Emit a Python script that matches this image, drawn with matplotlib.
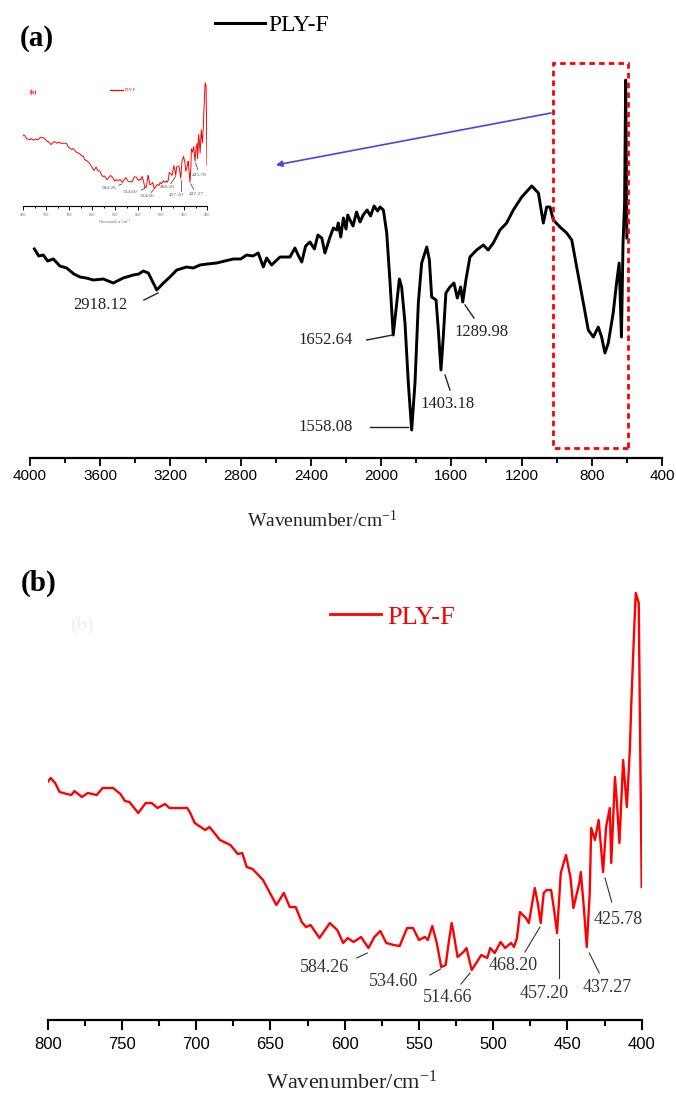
import numpy as np
import matplotlib.pyplot as plt
from matplotlib.patches import Rectangle
from matplotlib.lines import Line2D
from matplotlib.ticker import MultipleLocator

plt.rcParams['font.family'] = ['Liberation Serif', 'DejaVu Serif']
plt.rcParams['mathtext.fontset'] = 'custom'
plt.rcParams['mathtext.rm'] = 'Liberation Serif'
plt.rcParams['mathtext.it'] = 'Liberation Serif:italic'

# ---- (a) full spectrum, PLY-F (arbitrary units)
wn_a = [3975, 3950, 3924, 3900, 3867, 3830, 3791, 3750, 3715, 3680, 3639, 3582, 3526, 3469,
        3412, 3380, 3355, 3326, 3278, 3240, 3203, 3164, 3108, 3070, 3032, 2990, 2937, 2890,
        2842, 2800, 2766, 2730, 2700, 2671, 2652, 2624, 2576, 2519, 2491, 2470, 2452, 2430,
        2405, 2380, 2360, 2338, 2320, 2291, 2272, 2253, 2244, 2230, 2215, 2200, 2190, 2177,
        2160, 2140, 2120, 2102, 2080, 2060, 2040, 2020, 2006, 1987, 1968, 1949,
        1931, 1911, 1896, 1883, 1864, 1845, 1826, 1807, 1788, 1769, 1740, 1725, 1712, 1687,
        1674, 1659, 1646, 1631, 1608, 1585, 1566, 1547, 1535, 1517, 1494, 1456, 1418, 1390,
        1361, 1323, 1285, 1247, 1199, 1142, 1104, 1076, 1057, 1038, 1019, 981, 943, 914,
        886, 848, 820, 791, 763, 744, 725, 706, 678, 659, 644, 631, 622, 613, 607, 600]
t_a = [20.9, 20.2, 20.3, 19.7, 19.9, 19.2, 19.0, 18.4, 18.1, 18.0, 17.8, 17.9, 17.5, 18.0,
       18.3, 18.4, 18.7, 18.5, 16.8, 17.5, 18.1, 18.8, 19.1, 19.0, 19.3, 19.4, 19.5, 19.7,
       19.9, 19.9, 20.3, 20.2, 20.5, 19.1, 20.0, 19.3, 20.1, 20.1, 21.0, 20.2, 19.6, 21.2,
       21.6, 20.9, 22.3, 22.0, 20.5, 22.1, 23.0, 22.8, 23.5, 22.1, 24.0, 22.9, 24.3, 23.8,
       23.2, 24.6, 23.6, 24.3, 24.8, 24.2, 25.2, 24.7, 25.1, 24.8, 22.5, 17.5,
       12.3, 15.5, 17.9, 17.1, 13.5, 7.5, 2.8, 7.5, 15.5, 19.5, 21.1, 19.8, 16.1, 15.8,
       12.8, 8.8, 12.1, 16.5, 17.1, 17.5, 16.0, 17.1, 15.6, 17.8, 20.1, 20.8, 21.3, 20.8,
       21.5, 22.8, 23.5, 24.8, 26.1, 27.2, 26.5, 23.5, 25.1, 25.1, 23.8, 23.1, 22.5, 21.8,
       19.1, 15.5, 12.8, 12.1, 13.1, 12.1, 10.5, 11.5, 14.5, 17.5, 19.5, 12.1, 21.5, 25.5,
       37.8, 22.0]
peaks_a = ['2918.12', '1652.64', '1558.08', '1403.18', '1289.98']

# ---- (b) 800-400 region, PLY-F
wn_b = [800, 798, 795, 792, 787, 784, 782, 777, 773, 767, 763, 756, 751, 748, 745, 739, 734,
        730, 726, 721, 718, 710, 706, 704, 701, 694, 691, 684, 677, 672, 669, 666, 662, 655,
        646, 641, 637, 633, 629, 626, 623, 617, 610, 605, 601, 598, 594, 589, 584, 580, 576,
        572, 567, 563, 558, 554, 550, 546, 544, 541, 538, 535, 532, 530, 528, 527, 524, 520,
        518, 514.5, 511, 508, 504, 502, 499, 495, 492, 488, 486, 484, 482, 478, 476, 472,
        470, 468, 466, 464, 461, 459, 457, 454.5, 451, 448, 446, 442, 441, 439, 437, 435,
        434, 431.5, 429, 428, 426, 424, 421.5, 420.5, 418, 416.5, 415, 412.5, 410, 408, 407,
        405, 404, 402, 401, 400]
t_b = [23.8, 24.2, 23.7, 22.8, 22.6, 22.5, 22.9, 22.3, 22.7, 22.5, 23.2, 23.2, 22.6, 21.9,
       21.8, 20.7, 21.7, 21.7, 21.2, 21.6, 21.2, 21.2, 21.2, 20.7, 19.7, 19.0, 19.3, 18.0,
       17.5, 16.6, 16.7, 15.3, 15.1, 14.0, 11.5, 12.7, 11.3, 11.3, 9.8, 9.3, 9.5, 8.2, 9.7,
       9.0, 7.7, 8.2, 7.8, 8.3, 7.2, 8.3, 8.9, 7.7, 7.5, 7.4, 9.2, 9.2, 8.0, 8.3, 8.0, 9.4,
       7.7, 5.3, 5.5, 7.7, 9.7, 9.0, 6.3, 6.8, 7.2, 5.0, 5.8, 6.5, 6.2, 7.2, 6.7, 7.8, 7.2,
       7.7, 7.3, 8.2, 10.8, 10.2, 9.7, 13.2, 11.7, 9.7, 12.7, 13.0, 13.0, 11.0, 8.7, 14.7,
       16.5, 14.3, 11.2, 13.7, 14.8, 11.3, 7.3, 12.7, 19.2, 18.0, 20.0, 18.3, 14.8, 19.3,
       21.2, 15.7, 24.3, 21.3, 17.7, 26.0, 21.3, 27.0, 31.7, 39.3, 42.7, 41.7, 27.3, 13.3]
peaks_b = ['584.26', '534.60', '514.66', '468.20', '457.20', '437.27', '425.78']

# label placement (text centre, leader start, leader end) in data units
lab_a = [(3601, 15.3), (2314, 11.8), (2314, 3.1), (1619, 5.4), (1428, 12.6)]
lead_a = [((3351, 15.8), (3271, 16.5)), ((2082, 11.8), (1934, 12.3)),
          ((2063, 3.1), (1845, 3.1)), ((1636, 8.3), (1608, 6.8)),
          ((1522, 15.3), (1471, 14.0))]
lab_b = [(613.6, 5.3), (567.1, 3.9), (530.4, 2.3), (486.7, 5.5), (465.5, 2.6),
         (423.4, 3.2), (415.6, 10.0)]
lead_b = [((591.9, 6.2), (584.8, 6.7)), ((542.6, 4.5), (535.4, 5.1)),
          ((521.7, 3.6), (515.6, 4.7)), ((478.6, 6.8), (468.5, 9.3)),
          ((455.9, 4.2), (455.9, 8.1)), ((428.6, 4.7), (435.3, 6.7)),
          ((420.2, 11.8), (424.7, 14.2))]

W, H = 676, 1096
fig = plt.figure(figsize=(W / 100, H / 100), dpi=100)


def box(l, t, r, b):
    return [l / W, 1 - b / H, (r - l) / W, (b - t) / H]


def bare(ax, lw):
    for s in ['left', 'right', 'top']:
        ax.spines[s].set_visible(False)
    ax.spines['bottom'].set_linewidth(lw)
    ax.set_yticks([])


def draw_b(ax, k, lw, txt_col, ghost_col, tick_fs, tick_col):
    # k: font scale of the panel
    ax.plot(wn_b, t_b, color='red', lw=lw)
    for s, (tx, ty), (p0, p1) in zip(peaks_b, lab_b, lead_b):
        ax.text(tx, ty, s, ha='center', va='center', fontsize=13 * k, color=txt_col)
        ax.plot([p0[0], p1[0]], [p0[1], p1[1]], color='#333333', lw=max(0.8 * k, 0.5))
    ax.text(777, 39.5, '(b)', ha='center', va='center', fontsize=14 * k,
            color=ghost_col, fontweight='bold')
    ax.set_xlim(800, 400)
    ax.xaxis.set_major_locator(MultipleLocator(50))
    ax.xaxis.set_minor_locator(MultipleLocator(25))
    ax.tick_params(axis='x', which='major', direction='out', labelsize=tick_fs,
                   labelcolor=tick_col, length=6 * k + 1, width=1.2 * k + 0.3,
                   pad=5 * k + 0.5)
    ax.tick_params(axis='x', which='minor', direction='out', length=4 * k + 0.5,
                   width=1.2 * k + 0.3)
    for t in ax.get_xticklabels():
        t.set_fontfamily(['Liberation Sans', 'DejaVu Sans'])


# ---------------- panel (a)
ax1 = fig.add_axes(box(30, 58, 662, 458))
ax1.plot(wn_a, t_a, color='black', lw=2.1)
ax1.set_xlim(4000, 400)
ax1.set_ylim(0, 40)
bare(ax1, 1.6)
ax1.xaxis.set_major_locator(MultipleLocator(400))
ax1.xaxis.set_minor_locator(MultipleLocator(200))
ax1.tick_params(axis='x', which='major', direction='out', length=6, width=1.3,
                labelsize=11, pad=2)
ax1.tick_params(axis='x', which='minor', direction='out', length=3.5, width=1.3)
for t in ax1.get_xticklabels():
    t.set_fontfamily(['Liberation Sans', 'DejaVu Sans'])
for s, (tx, ty), (p0, p1) in zip(peaks_a, lab_a, lead_a):
    ax1.text(tx, ty, s, ha='center', va='center', fontsize=12, color='#222222')
    ax1.plot([p0[0], p1[0]], [p0[1], p1[1]], color='#222222', lw=1.0)
ax1.add_patch(Rectangle((594, 1.0), 1020 - 594, 38.5, fill=False, edgecolor='red',
                        lw=2.0, linestyle=(0, (2, 1.5)), zorder=5))
ax1.annotate('', xy=(2599, 29.3), xytext=(1032, 34.5),
             arrowprops=dict(arrowstyle='-|>', color='#4646e6', lw=1.2,
                             mutation_scale=9, shrinkA=0, shrinkB=0))

# inset: small copy of (b)
axi = fig.add_axes(box(23, 79.4, 207, 206))
axi.set_ylim(-1.2, 44)
bare(axi, 0.8)
draw_b(axi, 0.3, 0.7, '#555555', 'red', 2.8, '#777777')
axi.legend(handles=[Line2D([], [], color='red', lw=0.9)], labels=['PLY-F'],
           loc='center left', bbox_to_anchor=(0.475, 0.916), frameon=False,
           fontsize=3.2, handlelength=2.9, handletextpad=0.4, borderpad=0,
           borderaxespad=0, labelcolor='red')
axi.set_xlabel('Wavenumber/cm$^{-1}$', fontsize=3, color='#777777', labelpad=1)

fig.legend(handles=[Line2D([], [], color='black', lw=2.2)], labels=['PLY-F'],
           loc='center left', bbox_to_anchor=(215 / W, 1 - 25 / H), frameon=False,
           fontsize=17, handlelength=2.1, handletextpad=0.17, borderpad=0,
           borderaxespad=0)

# ---------------- panel (b)
ax2 = fig.add_axes(box(47.7, 580, 641.7, 1020))
ax2.set_ylim(0, 44)
bare(ax2, 1.6)
draw_b(ax2, 1.0, 1.7, '#333333', '#f2f2f2', 12, 'black')
ax2.legend(handles=[Line2D([], [], color='red', lw=2.0)], labels=['PLY-F'],
           loc='center left', bbox_to_anchor=(0.475, 0.916), frameon=False,
           fontsize=19, handlelength=1.93, handletextpad=0.23, borderpad=0,
           borderaxespad=0, labelcolor='red')

# panel letters and axis titles
fig.text(20 / W, 1 - 38 / H, '(a)', fontsize=21, fontweight='bold', va='center')
fig.text(21 / W, 1 - 583 / H, '(b)', fontsize=21, fontweight='bold', va='center')
fig.text(322 / W, 1 - 520 / H, 'Wavenumber/cm$^{-1}$', fontsize=14, ha='center',
         va='center', color='#222222')
fig.text(352 / W, 1 - 1082 / H, 'Wavenumber/cm$^{-1}$', fontsize=16, ha='center',
         va='center', color='#222222')

fig.savefig('out.png', dpi=100)
